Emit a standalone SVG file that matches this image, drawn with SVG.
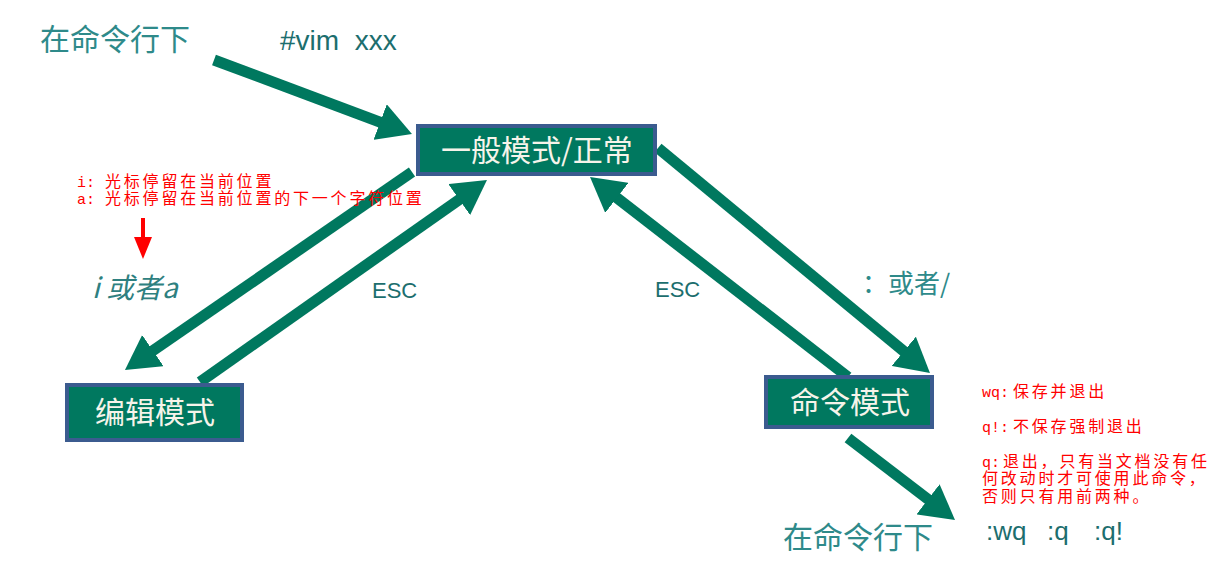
<svg xmlns="http://www.w3.org/2000/svg" width="1225" height="565" viewBox="0 0 1225 565">
<style>
.conn{stroke:#00785F;stroke-width:11;fill:none;marker-end:url(#head)}
.box{fill:#00785F;stroke:#3B5B8F;stroke-width:4}
.boxt{font-family:"Noto Sans CJK SC","Liberation Serif",sans-serif;font-size:30px;fill:#F6F4EA;text-anchor:middle}
.cn{font-family:"Noto Sans CJK SC",sans-serif;font-size:30px;fill:#2E8A8A}
.lat{font-family:"Liberation Sans","Noto Sans CJK SC",sans-serif;fill:#1C6E6E}
.red{font-family:"Noto Sans CJK SC",sans-serif;font-size:16px;fill:#FF0000;letter-spacing:2.8px}
.redm{font-family:"Liberation Mono",monospace;font-size:15px;fill:#FF0000}
</style>
<defs>
<marker id="head" viewBox="0 0 34 38" refX="2" refY="19" markerWidth="34" markerHeight="38" markerUnits="userSpaceOnUse" orient="auto">
<path d="M0,0 L34,19 L0,38 z" fill="#00785F"/>
</marker>
<marker id="redhead" viewBox="0 0 22 18" refX="1" refY="9" markerWidth="22" markerHeight="18" markerUnits="userSpaceOnUse" orient="auto">
<path d="M0,0 L22,9 L0,18 z" fill="#FF0000"/>
</marker>
</defs>
<rect width="1225" height="565" fill="#FFFFFF"/>
<g id="connectors">
<line class="conn" x1="214" y1="60" x2="382" y2="122.8"/>
<line class="conn" x1="412" y1="172" x2="151.3" y2="351.8"/>
<line class="conn" x1="200" y1="382" x2="460.8" y2="198.4"/>
<line class="conn" x1="658" y1="148" x2="905.3" y2="352.6"/>
<line class="conn" x1="848" y1="377" x2="615.3" y2="196.6"/>
<line class="conn" x1="848" y1="438" x2="929.6" y2="500.5"/>
<line x1="143" y1="218" x2="143" y2="238" stroke="#FF0000" stroke-width="4" marker-end="url(#redhead)"/>
</g>
<g id="node-normal">
<rect class="box" x="418" y="126" width="237" height="48"/>
<text class="boxt" x="537" y="161">一般模式/正常</text>
</g>
<g id="node-edit">
<rect class="box" x="67" y="385" width="175" height="55"/>
<text class="boxt" x="155" y="423">编辑模式</text>
</g>
<g id="node-command">
<rect class="box" x="766" y="377" width="166" height="50"/>
<text class="boxt" x="850" y="413">命令模式</text>
</g>
<g id="labels">
<text class="cn" x="40" y="50">在命令行下</text>
<text class="lat" x="280" y="50" font-size="28" xml:space="preserve">#vim  xxx</text>
<text class="redm" x="77" y="187">i:</text>
<text class="red" x="105" y="187">光标停留在当前位置</text>
<text class="redm" x="77" y="204">a:</text>
<text class="red" x="105" y="204">光标停留在当前位置的下一个字符位置</text>
<text x="92" y="298" font-family="'Noto Sans CJK SC',sans-serif" font-size="28" font-style="italic" fill="#2E8080" xml:space="preserve">i 或者a</text>
<text class="lat" x="372" y="298" font-size="22">ESC</text>
<text class="lat" x="655" y="297" font-size="22">ESC</text>
<text class="cn" x="862" y="293" style="font-size:26px">：或者/</text>
<text class="redm" x="982" y="397">wq:</text>
<text class="red" x="1013" y="397">保存并退出</text>
<text class="redm" x="982" y="432">q!:</text>
<text class="red" x="1013" y="432">不保存强制退出</text>
<text class="redm" x="982" y="467">q:</text>
<text class="red" x="1003" y="467">退出，只有当文档没有任</text>
<text class="red" x="982" y="484">何改动时才可使用此命令，</text>
<text class="red" x="982" y="502">否则只有用前两种。</text>
<text class="lat" x="986" y="540" font-size="26">:wq</text>
<text class="lat" x="1047" y="540" font-size="26">:q</text>
<text class="lat" x="1094" y="540" font-size="26">:q!</text>
<text class="cn" x="783" y="548">在命令行下</text>
</g>
</svg>
